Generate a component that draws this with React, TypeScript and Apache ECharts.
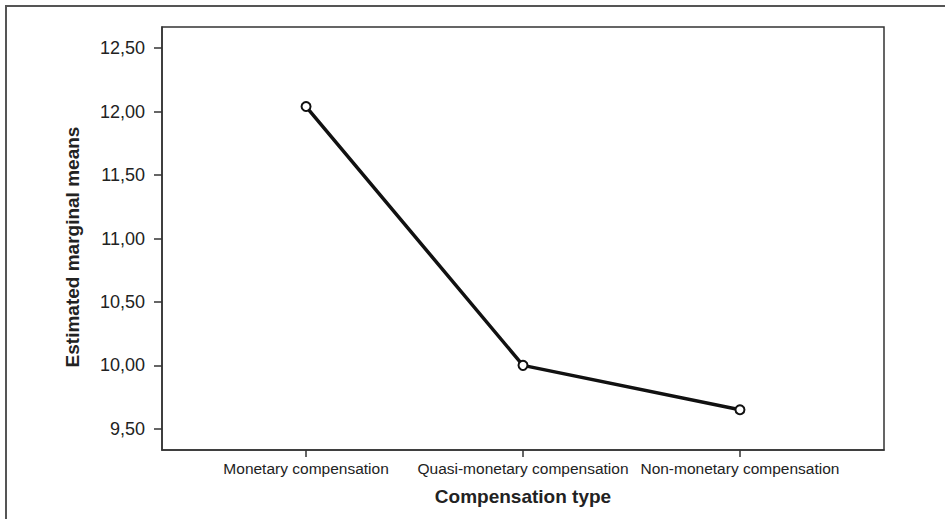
import React, { useEffect, useRef } from "react";
import * as echarts from "echarts";

const categories = ["Monetary compensation", "Quasi-monetary compensation", "Non-monetary compensation"];
const meanValues = [12.04, 10.0, 9.65];
const yTickValues = [9.5, 10.0, 10.5, 11.0, 11.5, 12.0, 12.5];
const xAxisTitle = "Compensation type";
const yAxisTitle = "Estimated marginal means";

export default function App() {
  const ref = useRef<HTMLDivElement>(null);
  useEffect(() => {
    document.body.style.margin = "0";
    if (!ref.current) return;
    const chart = echarts.init(ref.current, null, { renderer: "svg" });
    const catIdx = categories.map((_, i) => i);
    const font = "'Liberation Sans', Arial, sans-serif";
    chart.setOption({
      animation: false,
      backgroundColor: "#ffffff",
      grid: {
        left: 162,
        top: 27,
        right: 61,
        bottom: 69,
        show: true,
        borderColor: "#333333",
        borderWidth: 1.5,
        backgroundColor: "transparent",
      },
      graphic: [
        {
          type: "rect",
          shape: { x: 6, y: 6, width: 980, height: 600 },
          style: { fill: "none", stroke: "#555555", lineWidth: 2 },
          silent: true,
        },
        {
          type: "text",
          x: 72,
          y: 247,
          rotation: Math.PI / 2,
          style: {
            text: yAxisTitle,
            fill: "#222222",
            fontSize: 19,
            fontWeight: "bold",
            fontFamily: font,
            align: "center",
            verticalAlign: "middle",
          },
          silent: true,
        },
      ],
      xAxis: {
        type: "value",
        min: -0.664,
        max: 2.664,
        splitLine: { show: false },
        axisLine: { show: true, onZero: false, lineStyle: { color: "#333333", width: 1.5 } },
        axisTick: { show: true, customValues: catIdx, length: 7, lineStyle: { color: "#333333", width: 1.5 }, inside: false },
        axisLabel: {
          customValues: catIdx,
          formatter: (v: number) => categories[Math.round(v)] ?? "",
          color: "#222222",
          fontSize: 15.5,
          fontFamily: font,
          margin: 10,
        },
        name: xAxisTitle,
        nameLocation: "middle",
        nameGap: 37,
        nameTextStyle: { color: "#222222", fontSize: 19, fontWeight: "bold", fontFamily: font },
      },
      yAxis: {
        type: "value",
        min: 9.333,
        max: 12.667,
        splitLine: { show: false },
        axisLine: { show: true, onZero: false, lineStyle: { color: "#333333", width: 1.5 } },
        axisTick: { show: true, customValues: yTickValues, length: 8, lineStyle: { color: "#333333", width: 1.5 } },
        axisLabel: {
          customValues: yTickValues,
          formatter: (v: number) => v.toFixed(2).replace(".", ","),
          color: "#222222",
          fontSize: 18,
          fontFamily: font,
          margin: 17,
        },
      },
      series: [
        {
          type: "line",
          data: meanValues.map((v, i) => [i, v]),
          lineStyle: { color: "#111111", width: 3.5 },
          symbol: "emptyCircle",
          symbolSize: 9,
          itemStyle: { color: "#111111", borderColor: "#111111", borderWidth: 1.8 },
        },
      ],
    });
    return () => chart.dispose();
  }, []);
  return <div ref={ref} style={{ width: 945, height: 519 }} />;
}
